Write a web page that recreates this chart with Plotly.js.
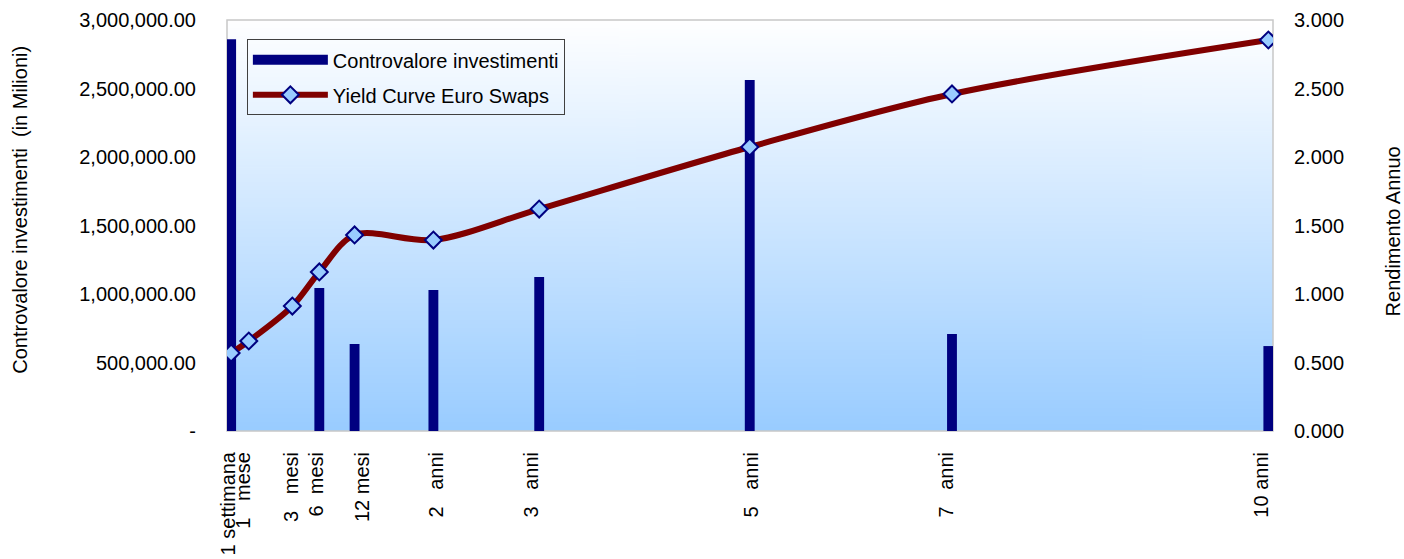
<!DOCTYPE html>
<html>
<head>
<meta charset="utf-8">
<script src="https://cdn.plot.ly/plotly-3.0.1.min.js"></script>
<style>
  html, body { margin: 0; padding: 0; background: #ffffff; }
  #chart { width: 1404px; height: 559px; }
</style>
</head>
<body>
<div id="chart"></div>
<script>
// Maturities: position of each point on the (non-linear) maturity axis
var maturityPos = [0, 0.17, 0.59, 0.85, 1.19, 1.95, 2.97, 5.0, 6.95, 10.0];

// Tick labels and where the source axis prints them
var maturityLabels = ["1 settimana", "1\u00a0\u00a0\u00a0mese", "3\u00a0\u00a0\u00a0mesi", "6\u00a0\u00a0mesi", "12 mesi",
                      "2\u00a0\u00a0\u00a0anni", "3\u00a0\u00a0\u00a0anni", "5\u00a0\u00a0\u00a0anni", "7\u00a0\u00a0\u00a0anni", "10 anni"];
var labelPos = [-0.03, 0.12, 0.58, 0.82, 1.27, 1.98, 2.90, 5.02, 6.90, 9.93];

// Controvalore investimenti (bars) – null where no investment
var controvalore = [2860000, null, null, 1044000, 635000, 1029000, 1124000, 2562000, 708000, 620000];

// Yield Curve Euro Swaps (%)
var yieldCurve = [0.569, 0.657, 0.912, 1.161, 1.431, 1.394, 1.620, 2.073, 2.460, 2.854];

// Left axis ticks
var leftTickVals = [0, 500000, 1000000, 1500000, 2000000, 2500000, 3000000];
var leftTickText = ["-", "500,000.00", "1,000,000.00", "1,500,000.00", "2,000,000.00", "2,500,000.00", "3,000,000.00"];

// Right axis ticks
var rightTickVals = [0, 0.5, 1, 1.5, 2, 2.5, 3];
var rightTickText = ["0.000", "0.500", "1.000", "1.500", "2.000", "2.500", "3.000"];

// Background gradient (white -> light blue) as image
function gradientURL() {
  var c = document.createElement("canvas");
  c.width = 4; c.height = 400;
  var ctx = c.getContext("2d");
  var g = ctx.createLinearGradient(0, 0, 0, 400);
  g.addColorStop(0, "#ffffff");
  g.addColorStop(1, "#99ccff");
  ctx.fillStyle = g;
  ctx.fillRect(0, 0, 4, 400);
  return c.toDataURL("image/png");
}

var FONT = "Liberation Sans, Arial, sans-serif";
var FS = 20;

var traces = [
  {
    type: "bar",
    name: "Controvalore investimenti",
    x: maturityPos,
    y: controvalore,
    width: 0.095,
    marker: { color: "#000080", line: { width: 0 } },
    yaxis: "y",
    showlegend: false,
    hoverinfo: "x+y"
  },
  {
    // legend swatch for the bars (wide bar-like key, as in the source)
    type: "scatter",
    mode: "lines",
    name: "Controvalore investimenti",
    x: [null],
    y: [null],
    yaxis: "y",
    line: { color: "#000080", width: 10 },
    legendgroup: "a",
    hoverinfo: "skip"
  },
  {
    type: "scatter",
    mode: "lines+markers",
    name: "Yield Curve Euro Swaps",
    x: maturityPos,
    y: yieldCurve,
    yaxis: "y2",
    line: { color: "#800000", width: 6, shape: "spline", smoothing: 0.9 },
    marker: { symbol: "diamond", size: 13, color: "#99ccff", line: { color: "#000080", width: 2 } },
    legendgroup: "b"
  }
];

var layout = {
  width: 1404,
  height: 559,
  margin: { l: 227, r: 131, t: 20, b: 128 },
  paper_bgcolor: "#ffffff",
  plot_bgcolor: "rgba(0,0,0,0)",
  font: { family: FONT, size: FS, color: "#000000" },
  showlegend: true,
  legend: {
    x: 0.019, y: 0.953, xanchor: "left", yanchor: "top",
    bgcolor: "rgba(255,255,255,0)",
    bordercolor: "#404040", borderwidth: 1,
    font: { family: FONT, size: FS, color: "#000000" },
    tracegroupgap: 6,
    itemwidth: 75
  },
  xaxis: {
    range: [-0.04, 10.045],
    tickmode: "array",
    tickvals: labelPos,
    ticktext: maturityLabels,
    tickangle: -90,
    showgrid: false,
    zeroline: false,
    showline: false,
    ticks: "",
    ticklabelstandoff: 16,
    tickfont: { family: FONT, size: FS, color: "#000000" }
  },
  yaxis: {
    range: [0, 3000000],
    tickmode: "array",
    tickvals: leftTickVals,
    ticktext: leftTickText,
    showgrid: false,
    zeroline: false,
    showline: false,
    ticks: "",
    ticklabelstandoff: 30,
    tickfont: { family: FONT, size: FS, color: "#000000" }
  },
  yaxis2: {
    overlaying: "y",
    side: "right",
    range: [0, 3],
    tickmode: "array",
    tickvals: rightTickVals,
    ticktext: rightTickText,
    showgrid: false,
    zeroline: false,
    showline: false,
    ticks: "",
    ticklabelstandoff: 20,
    tickfont: { family: FONT, size: FS, color: "#000000" }
  },
  images: [{
    source: gradientURL(),
    xref: "paper", yref: "paper",
    x: 0, y: 1, sizex: 1, sizey: 1,
    xanchor: "left", yanchor: "top",
    sizing: "stretch", layer: "below"
  }],
  shapes: [{
    type: "rect", xref: "paper", yref: "paper",
    x0: 0, y0: 0, x1: 1, y1: 1,
    line: { color: "#c8c8c8", width: 1.5 },
    fillcolor: "rgba(0,0,0,0)",
    layer: "below"
  }],
  annotations: [
    {
      text: "Controvalore investimenti  (in Milioni)",
      xref: "paper", yref: "paper",
      x: -0.198, y: 0.538, xanchor: "center", yanchor: "middle",
      textangle: -90, showarrow: false,
      font: { family: FONT, size: FS, color: "#000000" }
    },
    {
      text: "Rendimento Annuo",
      xref: "paper", yref: "paper",
      x: 1.1145, y: 0.485, xanchor: "center", yanchor: "middle",
      textangle: -90, showarrow: false,
      font: { family: FONT, size: FS, color: "#000000" }
    }
  ]
};

Plotly.newPlot("chart", traces, layout, { displayModeBar: false, staticPlot: true });
</script>
</body>
</html>
